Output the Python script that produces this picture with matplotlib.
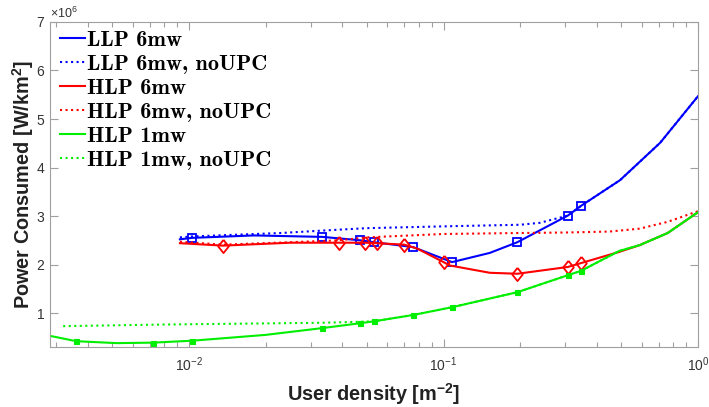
import numpy as np
import matplotlib
matplotlib.use('Agg')
import matplotlib.pyplot as plt
from matplotlib.lines import Line2D
from matplotlib.ticker import LogLocator, NullFormatter

plt.rcParams['font.family'] = 'Liberation Sans'
plt.rcParams['mathtext.fontset'] = 'custom'
plt.rcParams['mathtext.rm'] = 'Liberation Sans'
plt.rcParams['mathtext.it'] = 'Liberation Sans:italic'
plt.rcParams['mathtext.bf'] = 'Liberation Sans:bold'

# user density [m^-2] and power consumed [x1e6 W/km^2]
llp6_x = [0.0092, 0.0103, 0.018, 0.0334, 0.047, 0.0533, 0.0759, 0.108, 0.152, 0.195, 0.308, 0.347, 0.494, 0.71, 1.0]
llp6_y = [2.52, 2.55, 2.60, 2.57, 2.50, 2.46, 2.36, 2.05, 2.24, 2.46, 3.01, 3.21, 3.74, 4.51, 5.47]
llp6_marks = [1, 3, 4, 5, 6, 7, 9, 10, 11]

llp6_noupc_x = [0.0092, 0.0103, 0.023, 0.0334, 0.05, 0.106, 0.2, 0.239, 0.308, 0.347, 0.494, 0.71, 1.0]
llp6_noupc_y = [2.56, 2.58, 2.65, 2.70, 2.75, 2.79, 2.82, 2.86, 3.01, 3.21, 3.74, 4.51, 5.47]

hlp6_x = [0.0092, 0.0136, 0.025, 0.0388, 0.0492, 0.0548, 0.070, 0.0787, 0.1, 0.106, 0.152, 0.195, 0.308, 0.347, 0.49, 0.59, 0.76, 1.0]
hlp6_y = [2.44, 2.39, 2.45, 2.45, 2.45, 2.44, 2.41, 2.33, 2.05, 1.98, 1.83, 1.81, 1.95, 2.03, 2.26, 2.40, 2.65, 3.08]
hlp6_marks = [1, 3, 4, 5, 6, 8, 11, 12, 13]

hlp6_noupc_x = [0.0092, 0.0136, 0.025, 0.0388, 0.05, 0.1, 0.2, 0.3, 0.45, 0.59, 0.76, 1.0]
hlp6_noupc_y = [2.47, 2.41, 2.46, 2.50, 2.56, 2.63, 2.65, 2.66, 2.68, 2.74, 2.88, 3.10]

hlp1_x = [0.00284, 0.0036, 0.0052, 0.0072, 0.0103, 0.02, 0.0334, 0.047, 0.0533, 0.0759, 0.108, 0.195, 0.308, 0.347, 0.49, 0.59, 0.76, 1.0]
hlp1_y = [0.53, 0.42, 0.38, 0.39, 0.43, 0.55, 0.69, 0.79, 0.83, 0.96, 1.12, 1.43, 1.78, 1.87, 2.28, 2.40, 2.65, 3.08]
hlp1_marks = [1, 3, 4, 6, 7, 8, 9, 10, 11, 12, 13]

hlp1_noupc_x = [0.0032, 0.0072, 0.0103, 0.0334, 0.047, 0.0533, 0.0759, 0.108, 0.195, 0.308, 0.347, 0.49, 0.59, 0.76, 1.0]
hlp1_noupc_y = [0.73, 0.76, 0.77, 0.80, 0.82, 0.83, 0.96, 1.12, 1.43, 1.78, 1.87, 2.28, 2.40, 2.65, 3.08]

labels = ['LLP 6mw', 'LLP 6mw, noUPC', 'HLP 6mw', 'HLP 6mw, noUPC', 'HLP 1mw', 'HLP 1mw, noUPC']
blue, red, green = '#0000ff', '#ff0000', '#00ee00'

fig = plt.figure(figsize=(7.09, 4.07), dpi=100)
ax = fig.add_axes([0.0705, 0.1474, 0.914, 0.7986])

lw = 1.5
# slightly tall diamond, like the MATLAB 'd' marker
diamond = [(0, 1), (0.8, 0), (0, -1), (-0.8, 0), (0, 1)]
sq = dict(marker='s', markersize=6, markerfacecolor='none', markeredgewidth=1.3)
dm = dict(marker=diamond, markersize=9.5, markerfacecolor='none', markeredgewidth=1.3)
st = dict(marker='s', markersize=3.6, markeredgewidth=0.8)

ax.plot(llp6_x, np.array(llp6_y) * 1e6, color=blue, lw=lw, markevery=llp6_marks, **sq)
ax.plot(llp6_noupc_x, np.array(llp6_noupc_y) * 1e6, color=blue, lw=lw, ls=':')
ax.plot(hlp6_x, np.array(hlp6_y) * 1e6, color=red, lw=lw, markevery=hlp6_marks, **dm)
ax.plot(hlp6_noupc_x, np.array(hlp6_noupc_y) * 1e6, color=red, lw=lw, ls=':')
ax.plot(hlp1_x, np.array(hlp1_y) * 1e6, color=green, lw=lw, markevery=hlp1_marks, **st)
ax.plot(hlp1_noupc_x, np.array(hlp1_noupc_y) * 1e6, color=green, lw=lw, ls=':')

ax.set_xscale('log')
ax.set_xlim(0.00284, 1.0)
ax.set_ylim(0.3e6, 7e6)
ax.set_yticks(np.arange(1, 8) * 1e6)
ax.ticklabel_format(axis='y', style='sci', scilimits=(0, 0), useMathText=True)
ax.xaxis.set_minor_locator(LogLocator(base=10, subs=np.arange(2, 10)))
ax.xaxis.set_minor_formatter(NullFormatter())

for s in ax.spines.values():
    s.set_color('#a0a0a0')
    s.set_linewidth(0.8)
ax.tick_params(which='both', direction='in', top=True, right=True, color='#a0a0a0',
               labelcolor='#333333', labelsize=10, width=0.8)
ax.tick_params(which='major', length=6)
ax.tick_params(which='minor', length=3.5)
ax.tick_params(axis='x', which='major', pad=6)
ax.yaxis.get_offset_text().set_fontsize(9)
ax.yaxis.get_offset_text().set_color('#333333')

ax.set_xlabel(r'User density [m$^{\mathbf{-2}}$]', fontsize=14.3, fontweight='bold', color='#222222', labelpad=5)
ax.set_ylabel(r'Power Consumed [W/km$^{\mathbf{2}}$]', fontsize=14.3, fontweight='bold', color='#222222', labelpad=0)

# legend shows plain line styles only
handles = [Line2D([], [], color=blue, lw=lw), Line2D([], [], color=blue, lw=lw, ls=':'),
           Line2D([], [], color=red, lw=lw), Line2D([], [], color=red, lw=lw, ls=':'),
           Line2D([], [], color=green, lw=lw), Line2D([], [], color=green, lw=lw, ls=':')]
ax.legend(handles, labels, loc='upper left', bbox_to_anchor=(0.015, 0.975), frameon=False,
          prop={'family': 'cmb10', 'size': 16}, handlelength=1.15, handletextpad=0.1,
          labelspacing=0.2, borderpad=0, borderaxespad=0)

fig.savefig('out.png', dpi=100)
